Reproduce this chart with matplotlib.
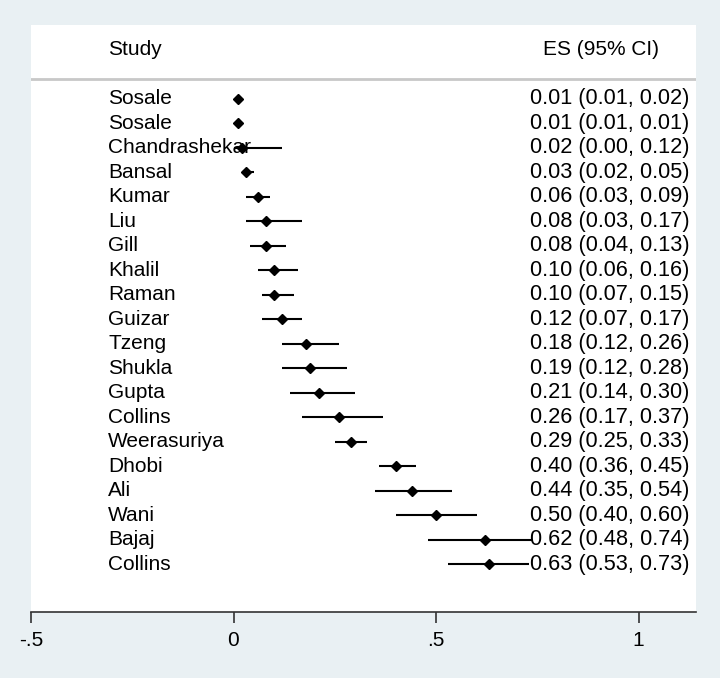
import matplotlib.pyplot as plt
from matplotlib.transforms import blended_transform_factory

studies = ["Sosale", "Sosale", "Chandrashekar", "Bansal", "Kumar", "Liu", "Gill",
           "Khalil", "Raman", "Guizar", "Tzeng", "Shukla", "Gupta", "Collins",
           "Weerasuriya", "Dhobi", "Ali", "Wani", "Bajaj", "Collins"]
es = [0.01, 0.01, 0.02, 0.03, 0.06, 0.08, 0.08, 0.10, 0.10, 0.12,
      0.18, 0.19, 0.21, 0.26, 0.29, 0.40, 0.44, 0.50, 0.62, 0.63]
lo = [0.01, 0.01, 0.00, 0.02, 0.03, 0.03, 0.04, 0.06, 0.07, 0.07,
      0.12, 0.12, 0.14, 0.17, 0.25, 0.36, 0.35, 0.40, 0.48, 0.53]
hi = [0.02, 0.01, 0.12, 0.05, 0.09, 0.17, 0.13, 0.16, 0.15, 0.17,
      0.26, 0.28, 0.30, 0.37, 0.33, 0.45, 0.54, 0.60, 0.74, 0.73]
xticks = [-0.5, 0, 0.5, 1]
xticklabels = ["-.5", "0", ".5", "1"]

plt.rcParams['font.family'] = ['Liberation Sans', 'DejaVu Sans']

fig = plt.figure(figsize=(7.2, 6.78), dpi=100)
fig.patch.set_facecolor('#e9f0f3')
ax = fig.add_axes([31/720, 66/678, 665/720, 587/678])
ax.set_facecolor('white')

rows = list(range(len(studies)))
ax.hlines(rows, lo, hi, color='black', linewidth=1.5, zorder=2)
ax.plot(es, rows, 'D', color='black', markersize=5.5, zorder=3)

ax.set_xlim(-0.5, -0.5 + 665/405)
ax.set_ylim(20.94, -3.02)

tr = blended_transform_factory(ax.transAxes, ax.transData)
fs = 15
ax.text(0.116, -2.0, "Study", transform=tr, fontsize=fs, va='center', ha='left')
ax.text(0.770, -2.0, "ES (95% CI)", transform=tr, fontsize=fs, va='center', ha='left')
ax.axhline(-0.82, color='#c8c8c8', linewidth=2)
for i, s in enumerate(studies):
    ax.text(0.116, i, s, transform=tr, fontsize=fs, va='center', ha='left', zorder=1)
    ax.text(0.750, i, f"{es[i]:.2f} ({lo[i]:.2f}, {hi[i]:.2f})", transform=tr,
            fontsize=15.7, va='center', ha='left')

for sp in ['top', 'right', 'left']:
    ax.spines[sp].set_visible(False)
ax.spines['bottom'].set_color('#333333')
ax.spines['bottom'].set_linewidth(1.2)
ax.set_yticks([])
ax.set_xticks(xticks)
ax.set_xticklabels(xticklabels, fontsize=fs)
ax.tick_params(axis='x', length=8, width=1.2, color='#333333', pad=6)

fig.savefig("out.png", dpi=100, facecolor=fig.get_facecolor())
